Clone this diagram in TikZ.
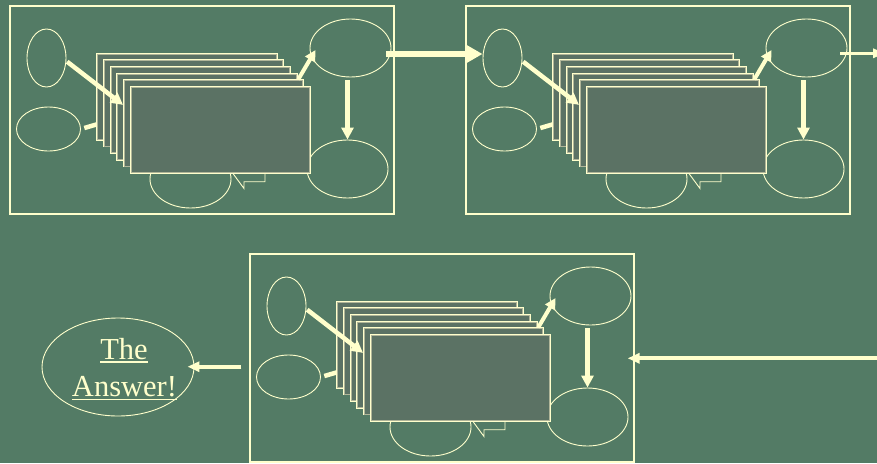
\documentclass[tikz,border=0pt]{standalone}
\usepackage{fontspec}
\setmainfont{Liberation Serif}
\usetikzlibrary{shapes.geometric,arrows.meta,calc}
\definecolor{bg}{HTML}{537B65}
\definecolor{cream}{HTML}{FFFFCC}
\definecolor{cardfill}{HTML}{5B7264}
\definecolor{cardedge}{HTML}{B0B599}
\tikzset{
  panelbox/.style={draw=cream, line width=1.2pt, minimum width=384pt, minimum height=208pt, inner sep=0pt},
  oval/.style={ellipse, draw=cream, line width=0.9pt, inner sep=0pt},
  card/.style={draw=cream, fill=cardfill, line width=1.2pt, minimum width=180pt, minimum height=86.7pt, inner sep=0pt},
  cardline/.style={draw=cardedge, line width=0.8pt},
  thinline/.style={draw=cream, line width=0.9pt},
  thickline/.style={draw=cream, line width=4.5pt},
  arr/.style={draw=cream, line width=4.5pt, -{Triangle[length=12pt,width=12pt]}},
  arrsmall/.style={draw=cream, line width=4pt, -{Triangle[length=11pt,width=11pt]}},
  bigarr/.style={draw=cream, line width=6.5pt, -{Triangle[length=17pt,width=18pt]}},
  outarr/.style={draw=cream, line width=3.5pt, -{Triangle[length=12pt,width=9pt]}},
  linkarr/.style={draw=cream, line width=4pt, -{Triangle[length=12pt,width=10pt]}},
  answertext/.style={text=cream, inner sep=0pt, font=\fontsize{30.5}{36}\selectfont},
  uline/.style={draw=cream, line width=1.5pt}
}
\newcommand\drawpanel[3]{%
\begin{scope}[shift={(#2,#3)}]
  \node[panelbox] (#1f) at (202,110) {};
  \node[oval, minimum width=39pt, minimum height=58pt] (#1a) at (46.5,58) {};
  \node[oval, minimum width=64pt, minimum height=44pt] (#1b) at (48.5,129) {};
  \node[oval, minimum width=81pt, minimum height=58pt] (#1c) at (350.5,48) {};
  \node[oval, minimum width=81pt, minimum height=58pt] (#1d) at (347.5,169) {};
  \node[oval, minimum width=81pt, minimum height=58pt] (#1e) at (190.5,179) {};
  \coordinate (#1t) at (233.3,170);
  \draw[thinline] (#1t) -- ++(0,4) -- ++(10.7,14.5) -- ++(0,-6.8) -- ++(21,0) -- ++(0,-8);
  \foreach \k in {0,...,5}{
    \node[card] (#1r\k) at ({187+6.667*\k},{96.7+6.667*\k}) {};
    \draw[cardline] ($(#1r\k.north west)+(1.4,1.4)$) rectangle ($(#1r\k.south east)+(-1.4,-1.4)$);
  }
  \draw[arr] ($(#1a.east)+(0.7,3.7)$) -- ($(#1r4.north west)!0.29!(#1r4.south west)$);
  \draw[thickline, shorten <=3.5pt] (#1b.east) -- ($(#1r0.north west)!0.816!(#1r0.south west)$);
  \draw[arrsmall] ($(#1r4.north east)+(-6,0)$) -- ($(#1c.west)+(6,2)$);
  \draw[arr, shorten <=3pt] (#1c.south -| #1d.north) -- (#1d.north);
\end{scope}}
\begin{document}
\begin{tikzpicture}[x=1pt,y=-1pt]
  \useasboundingbox (0,0) rectangle (877,463);
  \clip (0,0) rectangle (877,463);
  \fill[bg] (0,0) rectangle (877,463);
  \drawpanel{p1}{0}{0}
  \drawpanel{p2}{456}{0}
  \drawpanel{p3}{240}{248}
  % links between panels
  \coordinate (j1) at ($(p1c.east)+(-5,6)$);
  \draw[bigarr] (j1) -- (j1 -| p2a.west);
  \coordinate (j2) at ($(p2c.east)+(-7,5.3)$);
  \coordinate (exit2) at (885,53.3);
  \draw[outarr] (j2) -- (exit2);
  \coordinate (enter3) at (880,358.3);
  \draw[linkarr] (enter3) -- ($(p3f.east)+(-7,0.3)$);
  % the answer
  \node[oval, minimum width=152pt, minimum height=98pt] (ans) at (118,367) {};
  \coordinate (j3) at ($(p3f.west)+(-8,8.7)$);
  \draw[linkarr] (j3) -- ($(j3 -| ans.east)+(-7,0)$);
  \node[answertext, anchor=base] (t1) at (124,359.3) {The\ };
  \node[answertext, anchor=base] (t2) at (124.5,396.7) {Answer!};
  \draw[uline] ($(t1.base west)+(0,2.7)$) -- ($(t1.base east)+(0,2.7)$);
  \draw[uline] ($(t2.base west)+(0,2.7)$) -- ($(t2.base east)+(0,2.7)$);
\end{tikzpicture}
\end{document}
